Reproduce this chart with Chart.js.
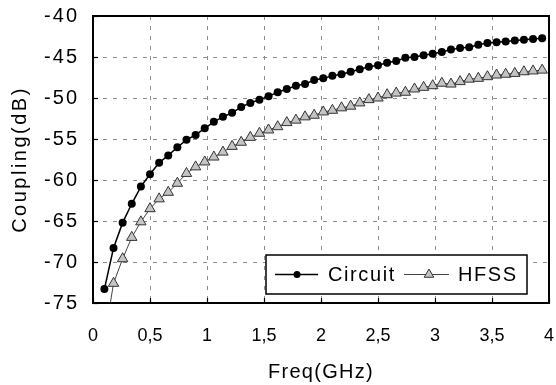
<!DOCTYPE html>
<html>
<head>
<meta charset="utf-8">
<script src="https://cdn.jsdelivr.net/npm/chart.js@4"></script>
<style>
html,body{margin:0;padding:0;background:#fff;}
#wrap{width:556px;height:385px;}
</style>
</head>
<body>
<div id="wrap"><canvas id="c" width="556" height="385"></canvas></div>
<script>
// Frequency points (GHz)
const freq = [0.10,0.18,0.26,0.34,0.42,0.50,0.58,0.66,0.74,0.82,0.90,0.98,1.06,1.14,1.22,1.30,1.38,1.46,1.54,1.62,1.70,1.78,1.86,1.94,2.02,2.10,2.18,2.26,2.34,2.42,2.50,2.58,2.66,2.74,2.82,2.90,2.98,3.06,3.14,3.22,3.30,3.38,3.46,3.54,3.62,3.70,3.78,3.86,3.94];
// Coupling (dB)
const circuit = [-73.3,-68.3,-65.2,-62.9,-60.8,-59.3,-57.9,-57.0,-56.0,-55.1,-54.5,-53.7,-52.9,-52.3,-51.8,-51.1,-50.6,-50.2,-49.8,-49.3,-48.9,-48.5,-48.3,-47.8,-47.6,-47.3,-47.1,-46.8,-46.5,-46.2,-46.0,-45.7,-45.5,-45.1,-45.0,-44.8,-44.6,-44.4,-44.1,-43.9,-43.8,-43.5,-43.3,-43.2,-43.1,-43.0,-42.9,-42.8,-42.7];
const hfss = [-79.5,-72.6,-69.6,-67.0,-65.1,-63.5,-62.3,-61.5,-60.4,-59.2,-58.4,-57.8,-57.2,-56.6,-55.9,-55.4,-54.8,-54.3,-53.9,-53.5,-53.0,-52.7,-52.3,-52.1,-51.7,-51.5,-51.2,-51.0,-50.6,-50.2,-50.0,-49.6,-49.4,-49.3,-48.9,-48.7,-48.5,-48.2,-48.3,-48.0,-47.7,-47.6,-47.4,-47.2,-47.1,-47.0,-46.8,-46.7,-46.6];
const seriesNames = ["Circuit","HFSS"];
const xTitle = "Freq(GHz)";
const yTitle = "Coupling(dB)";
const xMin = 0, xMax = 4, xStep = 0.5;
const yMin = -75, yMax = -40, yStep = 5;

const FONT = "'Liberation Sans', Arial, sans-serif";

const toPts = (ys) => freq.map((f,i)=>({x:f,y:ys[i]}));

// per-scale letter spacing for labels / titles
const spacing = {x:{labels:'0px', title:'1.3px'}, y:{labels:'2px', title:'2.5px'}};

function wrapSpacing(scale, method, ls){
  const orig = scale[method];
  if (orig.__wrapped) return;
  const fn = function(...args){
    const ctx = this.ctx;
    const prev = ctx.letterSpacing;
    ctx.letterSpacing = ls;
    const r = orig.apply(this, args);
    ctx.letterSpacing = prev;
    return r;
  };
  fn.__wrapped = true;
  scale[method] = fn;
}

const frameAndLegend = {
  id:'frameAndLegend',
  beforeDraw(chart){
    ['x','y'].forEach(id=>{
      const s = chart.scales[id];
      wrapSpacing(s, 'drawLabels', spacing[id].labels);
      wrapSpacing(s, 'drawTitle', spacing[id].title);
    });
  },
  beforeDatasetsDraw(chart){
    const {ctx, chartArea:a, scales} = chart;
    ctx.save();
    ctx.strokeStyle = '#8c8c8c'; ctx.lineWidth = 1; ctx.setLineDash([4,6]);
    scales.x.ticks.forEach(t=>{
      const px = Math.round(scales.x.getPixelForValue(t.value)) + 0.5;
      ctx.beginPath(); ctx.moveTo(px, a.top); ctx.lineTo(px, a.bottom); ctx.stroke();
    });
    scales.y.ticks.forEach(t=>{
      const py = Math.round(scales.y.getPixelForValue(t.value)) + 0.5;
      ctx.beginPath(); ctx.moveTo(a.left, py); ctx.lineTo(a.right, py); ctx.stroke();
    });
    ctx.restore();
  },
  afterDatasetsDraw(chart){
    const {ctx, chartArea:a, scales} = chart;
    ctx.save();
    // inward tick marks
    ctx.strokeStyle = '#000'; ctx.lineWidth = 1.2;
    scales.x.ticks.forEach(t=>{
      const px = Math.round(scales.x.getPixelForValue(t.value)) + 0.5;
      ctx.beginPath(); ctx.moveTo(px, a.bottom); ctx.lineTo(px, a.bottom-5); ctx.stroke();
    });
    scales.y.ticks.forEach(t=>{
      const py = Math.round(scales.y.getPixelForValue(t.value)) + 0.5;
      ctx.beginPath(); ctx.moveTo(a.left, py); ctx.lineTo(a.left+5, py); ctx.stroke();
    });
    // frame
    ctx.lineWidth = 2; ctx.strokeStyle = '#000';
    ctx.strokeRect(a.left, a.top, a.right - a.left, a.bottom - a.top);
    // legend
    const L = a.right - 283, R = a.right - 22, B = a.bottom - 9, T = B - 39;
    ctx.fillStyle = '#fff';
    ctx.fillRect(L, T, R-L, B-T);
    ctx.lineWidth = 1.5; ctx.strokeStyle = '#000';
    ctx.strokeRect(L, T, R-L, B-T);
    const cy = (T+B)/2;
    const ds = chart.data.datasets;
    ctx.font = "20px " + FONT;
    ctx.letterSpacing = '1.6px';
    ctx.textBaseline = 'middle';
    // Circuit
    ctx.strokeStyle = ds[0].borderColor; ctx.lineWidth = 1.5;
    ctx.beginPath(); ctx.moveTo(L+9, cy); ctx.lineTo(L+52, cy); ctx.stroke();
    ctx.fillStyle = '#000';
    ctx.beginPath(); ctx.arc(L+31, cy, 3.5, 0, Math.PI*2); ctx.fill();
    ctx.fillText(ds[0].label, L+62, cy+1);
    // HFSS
    ctx.strokeStyle = ds[1].borderColor; ctx.lineWidth = 1.2;
    ctx.beginPath(); ctx.moveTo(L+138, cy); ctx.lineTo(L+183, cy); ctx.stroke();
    const tx = L+163, r = 5.5;
    ctx.beginPath();
    ctx.moveTo(tx, cy - r); ctx.lineTo(tx + r*0.87, cy + r*0.5); ctx.lineTo(tx - r*0.87, cy + r*0.5); ctx.closePath();
    ctx.fillStyle = ds[1].pointBackgroundColor; ctx.fill();
    ctx.strokeStyle = ds[1].pointBorderColor; ctx.lineWidth = 1; ctx.stroke();
    ctx.fillStyle = '#000';
    ctx.fillText(ds[1].label, L+192, cy+1);
    ctx.restore();
  }
};

new Chart(document.getElementById('c'), {
  type:'line',
  data:{
    datasets:[
      {label:seriesNames[0], data:toPts(circuit), borderColor:'#000', borderWidth:1.5,
       pointRadius:4, pointBackgroundColor:'#000', pointBorderColor:'#000', pointBorderWidth:0, tension:0},
      {label:seriesNames[1], data:toPts(hfss), borderColor:'#444', borderWidth:1,
       pointStyle:'triangle', pointRadius:6, pointBackgroundColor:'#c4c4c4', pointBorderColor:'#333', pointBorderWidth:1, tension:0}
    ]
  },
  options:{
    responsive:false, animation:false,
    layout:{padding:{top:16,right:6,left:0,bottom:0}},
    plugins:{legend:{display:false}, tooltip:{enabled:false}},
    scales:{
      x:{type:'linear', min:xMin, max:xMax,
        ticks:{stepSize:xStep, color:'#000', padding:0, maxRotation:0,
          font:{family:FONT, size:18},
          callback:(v)=>String(v).replace('.',',')},
        grid:{drawOnChartArea:false, drawTicks:true, tickLength:22, tickColor:'rgba(0,0,0,0)'},
        border:{display:false},
        title:{display:true, text:xTitle, color:'#000', font:{family:FONT, size:20}, padding:{top:0,bottom:1}},
        afterFit:(s)=>{s.height = 82;}
      },
      y:{min:yMin, max:yMax,
        ticks:{stepSize:yStep, color:'#000', padding:0,
          font:{family:FONT, size:20},
          callback:(v)=>String(v)},
        grid:{drawOnChartArea:false, drawTicks:true, tickLength:14, tickColor:'rgba(0,0,0,0)'},
        border:{display:false},
        title:{display:true, text:yTitle, color:'#000', font:{family:FONT, size:20}, padding:{top:8,bottom:0}},
        afterFit:(s)=>{s.width = 93;}
      }
    }
  },
  plugins:[frameAndLegend]
});
</script>
</body>
</html>
